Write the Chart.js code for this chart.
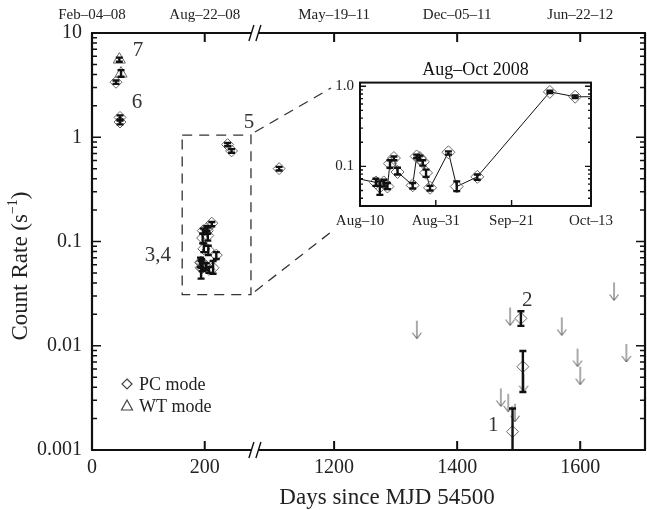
<!DOCTYPE html>
<html>
<head>
<meta charset="utf-8">
<script src="https://cdn.jsdelivr.net/npm/chart.js@4.4.0/dist/chart.umd.min.js"></script>
<style>
  html, body { margin: 0; padding: 0; background: #fff; }
  #wrap { position: relative; width: 647px; height: 510px; overflow: hidden; }
  #main { position: absolute; left: 0; top: 0; }
  #inset { position: absolute; left: 325px; top: 50px; }
</style>
</head>
<body>
<div id="wrap">
  <canvas id="main" width="647" height="510"></canvas>
  <canvas id="inset" width="300" height="185"></canvas>
</div>
<script>
// light curve: days since MJD 54500 and count rate (s^-1)

// PC mode detections
var pcDays  = [42.6, 49.7, 49.7, 192.4, 193.5, 194.6, 195.6, 196.3, 197.4, 198.4, 202.6, 203.7, 204.6, 205.4, 206.3, 207.4, 212.5, 214.8, 220.5, 240.6, 247.6, 1110.6, 1490, 1503.6, 1506.8];
var pcRate  = [3.37, 1.55, 1.40, 0.063, 0.056, 0.063, 0.056, 0.108, 0.127, 0.085, 0.058, 0.133, 0.127, 0.114, 0.083, 0.054, 0.150, 0.056, 0.074, 0.85, 0.74, 0.50, 0.0015, 0.0183, 0.0063];
var pcErrLo = [3.25, 1.45, 1.33, 0.057, 0.044, 0.056, 0.052, 0.096, 0.119, 0.079, 0.053, 0.127, 0.119, 0.102, 0.074, 0.050, 0.140, 0.049, 0.068, 0.82, 0.71, 0.48, 0.0008, 0.0155, 0.0036];
var pcErrHi = [3.50, 1.62, 1.48, 0.070, 0.065, 0.068, 0.062, 0.119, 0.133, 0.096, 0.062, 0.140, 0.136, 0.119, 0.091, 0.057, 0.154, 0.065, 0.079, 0.88, 0.77, 0.52, 0.0025, 0.0214, 0.0089];

// WT mode detections
var wtDays  = [48.5, 51.5];
var wtRate  = [5.56, 4.08];
var wtErrLo = [5.30, 3.80];
var wtErrHi = [5.80, 4.40];

// upper limits
var ulDays = [1334.5, 1471, 1483, 1486, 1494, 1508, 1570, 1595.6, 1600, 1655, 1675];
var ulRate = [0.0174, 0.0039, 0.00346, 0.0233, 0.00278, 0.0054, 0.0187, 0.0094, 0.0063, 0.0405, 0.0104];

// axes
var xTickDays = [0, 200, 1200, 1400, 1600];
var xTopLabels = ['Feb–04–08', 'Aug–22–08', 'May–19–11', 'Dec–05–11', 'Jun–22–12'];
var yTicks = [0.001, 0.01, 0.1, 1, 10];
var yTickLabels = ['0.001', '0.01', '0.1', '1', '10'];

var insetTickDays = [188, 209, 230, 252];
var insetTickLabels = ['Aug–10', 'Aug–31', 'Sep–21', 'Oct–13'];
var insetYTicks = [0.1, 1.0];
var insetYLabels = ['0.1', '1.0'];

// outburst numbers
var noteText = ['7', '6', '5', '3,4', '2', '1'];
var noteDays = [81.6, 80, 278.6, 117, 1513.8, 1458.5];
var noteRate = [6.83, 2.17, 1.39, 0.074, 0.027, 0.00171];

// zoom box (days / rate)
var boxDays = [160, 282];
var boxRate = [0.031, 1.05];

var FONT = 'Liberation Serif';

// broken x axis: left part is plain days, right part starts again at 1200
var RIGHT_ORIGIN = 429.5, RIGHT_STRETCH = 1.0914, BREAK_AT = 289, X_MAX = 981;
function axisPos(d) {
  return d < 600 ? d : RIGHT_ORIGIN + (d - 1200) * RIGHT_STRETCH;
}

function pts(days, rate) {
  return days.map(function (d, i) { return { x: axisPos(d), y: rate[i] }; });
}

// little down arrow for upper limits, its tip hangs below the value
var arrow = document.createElement('canvas');
arrow.width = 12; arrow.height = 40;
(function () {
  var c = arrow.getContext('2d');
  c.strokeStyle = '#555'; c.lineWidth = 1;
  c.beginPath();
  c.moveTo(6, 20); c.lineTo(6, 38);
  c.moveTo(1.5, 32); c.lineTo(6, 38); c.lineTo(10.5, 32);
  c.stroke();
})();

var errorBars = {
  id: 'errorBars',
  afterDatasetsDraw: function (chart) {
    var ctx = chart.ctx, a = chart.chartArea, ys = chart.scales.y;
    ctx.save();
    ctx.beginPath();
    ctx.rect(a.left, a.top, a.right - a.left, a.bottom - a.top);
    ctx.clip();
    ctx.strokeStyle = '#111';
    ctx.lineWidth = 2.4;
    chart.data.datasets.forEach(function (ds, di) {
      if (!ds.errLo) return;
      chart.getDatasetMeta(di).data.forEach(function (pt, i) {
        var y1 = ys.getPixelForValue(ds.errLo[i]);
        var y2 = ys.getPixelForValue(ds.errHi[i]);
        ctx.beginPath();
        ctx.moveTo(pt.x, y1); ctx.lineTo(pt.x, y2);
        ctx.moveTo(pt.x - 3.5, y1); ctx.lineTo(pt.x + 3.5, y1);
        ctx.moveTo(pt.x - 3.5, y2); ctx.lineTo(pt.x + 3.5, y2);
        ctx.stroke();
      });
    });
    ctx.restore();
  }
};

function logTicks(ctx, ys, a, lo, hi, major, minor) {
  for (var dec = lo; dec < hi * 1.0001; dec *= 10) {
    for (var k = 1; k <= 9; k++) {
      var v = dec * k;
      if (v < ys.min * 0.999 || v > ys.max * 1.001) continue;
      var py = ys.getPixelForValue(v);
      var len = k === 1 ? major : minor;
      ctx.moveTo(a.left, py); ctx.lineTo(a.left + len, py);
      ctx.moveTo(a.right, py); ctx.lineTo(a.right - len, py);
    }
  }
}

var mainDecor = {
  id: 'mainDecor',
  afterDatasetsDraw: function (chart) {
    var ctx = chart.ctx, a = chart.chartArea;
    var xs = chart.scales.x, ys = chart.scales.y;
    ctx.save();

    // dashed zoom box and lines to the inset
    var bx0 = xs.getPixelForValue(boxDays[0]), bx1 = xs.getPixelForValue(boxDays[1]);
    var by0 = ys.getPixelForValue(boxRate[1]), by1 = ys.getPixelForValue(boxRate[0]);
    ctx.strokeStyle = '#333'; ctx.lineWidth = 1.3;
    ctx.setLineDash([10, 7]);
    ctx.strokeRect(bx0, by0, bx1 - bx0, by1 - by0);
    ctx.beginPath();
    ctx.moveTo(bx1 + 4, by0 - 3); ctx.lineTo(331, 88);
    ctx.moveTo(bx1 + 4, by1 - 3); ctx.lineTo(331, 232);
    ctx.stroke();
    ctx.setLineDash([]);

    // frame with the axis break
    var bp = xs.getPixelForValue(BREAK_AT);
    ctx.strokeStyle = '#111'; ctx.lineWidth = 2.2;
    ctx.beginPath();
    [a.top, a.bottom].forEach(function (y) {
      ctx.moveTo(a.left - 1, y); ctx.lineTo(bp - 3.5, y);
      ctx.moveTo(bp + 3.5, y); ctx.lineTo(a.right + 1, y);
    });
    ctx.moveTo(a.left, a.top); ctx.lineTo(a.left, a.bottom);
    ctx.moveTo(a.right, a.top); ctx.lineTo(a.right, a.bottom);
    ctx.stroke();
    ctx.lineWidth = 1.4;
    ctx.beginPath();
    [a.top, a.bottom].forEach(function (y) {
      [-3.5, 3.5].forEach(function (o) {
        ctx.moveTo(bp + o - 2.5, y + 8); ctx.lineTo(bp + o + 2.5, y - 8);
      });
    });
    ctx.stroke();

    // inward ticks
    ctx.lineWidth = 2;
    ctx.beginPath();
    xTickDays.forEach(function (d) {
      var px = xs.getPixelForValue(axisPos(d));
      if (px < a.left + 2) return;
      ctx.moveTo(px, a.bottom); ctx.lineTo(px, a.bottom - 9);
      ctx.moveTo(px, a.top); ctx.lineTo(px, a.top + 9);
    });
    ctx.stroke();
    ctx.lineWidth = 1.5;
    ctx.beginPath();
    logTicks(ctx, ys, a, 0.001, 10, 9, 5);
    ctx.stroke();
    ctx.restore();
  },
  afterDraw: function (chart) {
    var ctx = chart.ctx, xs = chart.scales.x, ys = chart.scales.y;
    ctx.save();
    // outburst numbers
    ctx.fillStyle = '#333';
    ctx.font = '21px "' + FONT + '"';
    ctx.textAlign = 'center'; ctx.textBaseline = 'middle';
    noteText.forEach(function (t, i) {
      ctx.fillText(t, xs.getPixelForValue(axisPos(noteDays[i])), ys.getPixelForValue(noteRate[i]));
    });

    // legend
    var lx = 127, rows = [384, 406];
    ctx.strokeStyle = '#444'; ctx.lineWidth = 1.2;
    ctx.beginPath();
    ctx.moveTo(lx, rows[0] - 5); ctx.lineTo(lx + 5, rows[0]); ctx.lineTo(lx, rows[0] + 5); ctx.lineTo(lx - 5, rows[0]); ctx.closePath();
    ctx.stroke();
    ctx.beginPath();
    ctx.moveTo(lx, rows[1] - 6); ctx.lineTo(lx + 5.5, rows[1] + 4); ctx.lineTo(lx - 5.5, rows[1] + 4); ctx.closePath();
    ctx.stroke();
    ctx.fillStyle = '#222';
    ctx.font = '18px "' + FONT + '"';
    ctx.textAlign = 'left';
    ctx.fillText(chart.data.datasets[0].label, lx + 12, rows[0] + 1);
    ctx.fillText(chart.data.datasets[1].label, lx + 12, rows[1] + 1);

    // axis titles
    ctx.font = '23px "' + FONT + '"';
    ctx.textAlign = 'center';
    ctx.fillText('Days since MJD 54500', 387, 498);

    ctx.translate(21, 266);
    ctx.rotate(-Math.PI / 2);
    var big = '23px "' + FONT + '"', small = '14px "' + FONT + '"';
    ctx.font = big;
    var w1 = ctx.measureText('Count Rate (s').width, w3 = ctx.measureText(')').width;
    ctx.font = small;
    var w2 = ctx.measureText('−1').width;
    var x0 = -(w1 + w2 + w3) / 2;
    ctx.textAlign = 'left';
    ctx.font = big; ctx.fillText('Count Rate (s', x0, 0);
    ctx.font = small; ctx.fillText('−1', x0 + w1, -8);
    ctx.font = big; ctx.fillText(')', x0 + w1 + w2, 0);
    ctx.restore();
  }
};

var tickFont = { family: FONT, size: 20 };

new Chart(document.getElementById('main'), {
  type: 'scatter',
  data: {
    datasets: [{
      label: 'PC mode',
      data: pts(pcDays, pcRate),
      errLo: pcErrLo, errHi: pcErrHi,
      pointStyle: 'rectRot', radius: 6,
      borderColor: '#666', backgroundColor: 'rgba(0,0,0,0)', borderWidth: 1
    }, {
      label: 'WT mode',
      data: pts(wtDays, wtRate),
      errLo: wtErrLo, errHi: wtErrHi,
      pointStyle: 'triangle', radius: 7,
      borderColor: '#666', backgroundColor: 'rgba(0,0,0,0)', borderWidth: 1
    }, {
      label: 'Upper limits',
      data: pts(ulDays, ulRate),
      pointStyle: arrow, radius: 6
    }]
  },
  options: {
    responsive: false,
    animation: false,
    layout: { autoPadding: false, padding: { left: 0, right: 2, top: 0, bottom: 0 } },
    plugins: { legend: { display: false }, tooltip: { enabled: false } },
    scales: {
      x: {
        type: 'linear', position: 'bottom', min: 0, max: X_MAX,
        afterBuildTicks: function (s) { s.ticks = xTickDays.map(function (d) { return { value: axisPos(d) }; }); },
        afterFit: function (s) { s.height = 60; },
        grid: { display: false, drawTicks: false },
        border: { display: false },
        ticks: {
          autoSkip: false, maxRotation: 0, padding: 6, color: '#222', font: tickFont,
          callback: function (v, i) { return String(xTickDays[i]); }
        }
      },
      xTop: {
        axis: 'x', type: 'linear', position: 'top', min: 0, max: X_MAX,
        afterBuildTicks: function (s) { s.ticks = xTickDays.map(function (d) { return { value: axisPos(d) }; }); },
        afterFit: function (s) { s.height = 33; },
        grid: { display: false, drawTicks: false },
        border: { display: false },
        ticks: {
          autoSkip: false, maxRotation: 0, padding: 9, color: '#222', font: { family: FONT, size: 15 },
          callback: function (v, i) { return xTopLabels[i]; }
        }
      },
      y: {
        type: 'logarithmic', position: 'left', min: 0.001, max: 10,
        afterBuildTicks: function (s) { s.ticks = yTicks.map(function (v) { return { value: v }; }); },
        afterFit: function (s) { s.width = 92; },
        grid: { display: false, drawTicks: false },
        border: { display: false },
        ticks: {
          autoSkip: false, padding: 10, color: '#222', font: tickFont,
          callback: function (v, i) { return yTickLabels[i]; }
        }
      }
    }
  },
  plugins: [errorBars, mainDecor]
});

// inset: Aug-Oct 2008
var insetDecor = {
  id: 'insetDecor',
  afterDatasetsDraw: function (chart) {
    var ctx = chart.ctx, a = chart.chartArea, xs = chart.scales.x, ys = chart.scales.y;
    ctx.save();
    ctx.strokeStyle = '#111'; ctx.lineWidth = 2;
    ctx.strokeRect(a.left, a.top, a.right - a.left, a.bottom - a.top);
    ctx.lineWidth = 1.4;
    ctx.beginPath();
    insetTickDays.forEach(function (d) {
      var px = xs.getPixelForValue(d);
      if (px < a.left + 2 || px > a.right - 2) return;
      ctx.moveTo(px, a.bottom); ctx.lineTo(px, a.bottom - 6);
    });
    logTicks(ctx, ys, a, 0.01, 1, 6, 3);
    ctx.stroke();
    ctx.restore();
  }
};

new Chart(document.getElementById('inset'), {
  type: 'scatter',
  data: {
    datasets: [{
      label: 'PC mode',
      data: pcDays.map(function (d, i) { return { x: d, y: pcRate[i] }; }),
      errLo: pcErrLo, errHi: pcErrHi,
      showLine: true, borderColor: '#111', borderWidth: 1,
      pointStyle: 'rectRot', radius: 6.5,
      pointBorderColor: '#666', pointBackgroundColor: 'rgba(0,0,0,0)', pointBorderWidth: 1
    }]
  },
  options: {
    responsive: false,
    animation: false,
    layout: { autoPadding: false, padding: { left: 0, right: 34, top: 0, bottom: 0 } },
    plugins: {
      legend: { display: false }, tooltip: { enabled: false },
      title: {
        display: true, text: 'Aug–Oct 2008', fullSize: false, color: '#111',
        font: { family: FONT, size: 18, weight: 'normal' }, padding: { top: 9, bottom: 2 }
      }
    },
    scales: {
      x: {
        type: 'linear', min: 188, max: 252,
        afterBuildTicks: function (s) { s.ticks = insetTickDays.map(function (d) { return { value: d }; }); },
        afterFit: function (s) { s.height = 29; s.paddingLeft = 0; s.paddingRight = 0; },
        grid: { display: false, drawTicks: false },
        border: { display: false },
        ticks: {
          autoSkip: false, maxRotation: 0, padding: 6, color: '#222', font: { family: FONT, size: 15 },
          callback: function (v, i) { return insetTickLabels[i]; }
        }
      },
      y: {
        type: 'logarithmic', min: 0.032, max: 1.11,
        afterBuildTicks: function (s) { s.ticks = insetYTicks.map(function (v) { return { value: v }; }); },
        afterFit: function (s) { s.width = 35; },
        grid: { display: false, drawTicks: false },
        border: { display: false },
        ticks: {
          autoSkip: false, padding: 6, color: '#222', font: { family: FONT, size: 15 },
          callback: function (v, i) { return insetYLabels[i]; }
        }
      }
    }
  },
  plugins: [errorBars, insetDecor]
});
</script>
</body>
</html>
